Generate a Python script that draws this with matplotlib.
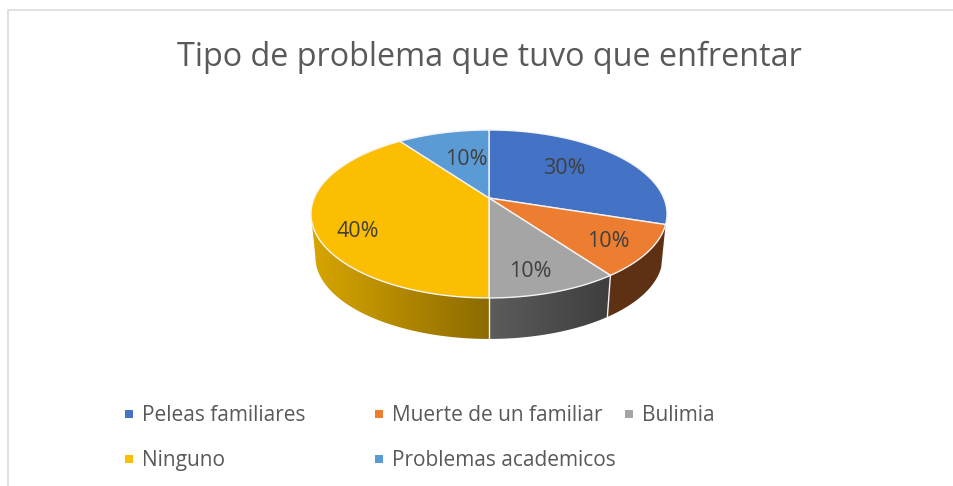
import numpy as np
import matplotlib
matplotlib.use("Agg")
import matplotlib.pyplot as plt
from matplotlib.patches import Rectangle, Polygon
from matplotlib.colors import to_rgb

title = "Tipo de problema que tuvo que enfrentar"
categories = ["Peleas familiares", "Muerte de un familiar", "Bulimia", "Ninguno", "Problemas academicos"]
values = [30, 10, 10, 40, 10]
colors = ["#4472C4", "#ED7D31", "#A5A5A5", "#FBBE00", "#5B9BD5"]
wall_left = ["#2A4478", "#5F3114", "#5C5C5C", "#D8A600", "#36608A"]
wall_right = ["#2A4478", "#5F3114", "#3E3E3E", "#8C6A00", "#36608A"]
label_pos = [(564, 168), (608, 241), (530, 271), (358, 231), (466, 159)]
legend_pos = [(125, 414), (375, 414), (625, 414), (125, 459), (375, 459)]

FONT = "Open Sans"
fig = plt.figure(figsize=(9.54, 4.86), dpi=100)
ax = fig.add_axes([0, 0, 1, 1])
ax.axis("off")

CX, CY, A, B, K = 489, 198, 174.8, 80.95, 0.19
DEPTH_CY, DEPTH_SCALE = 241.5, 0.975
LEFT_TANGENT = 180 + np.degrees(np.arccos(K))


def project(deg, r=1.0, scale=1.0, cy=CY):
    t = np.radians(deg)
    x, y = r * np.sin(t), r * np.cos(t)
    w = 1 + K * y
    return CX + scale * A * x / w, cy - scale * B * y / w


# border
ax.plot([954, 8.5, 8.5], [10.5, 10.5, 486], color="#D9D9D9", lw=1.1, solid_capstyle="butt")

edges = np.cumsum([0] + values) / sum(values) * 360.0

# side walls with a left-to-right gradient, clipped to the wall outline
for i in range(len(values)):
    a0, a1 = edges[i], edges[i + 1]
    if a0 < 90 or a0 >= LEFT_TANGENT:
        continue
    ts = np.linspace(a0, min(a1, LEFT_TANGENT), 200)
    xt, yt = project(ts)
    xb, yb = project(ts[::-1], scale=DEPTH_SCALE, cy=DEPTH_CY)
    px, py = np.r_[xt, xb], np.r_[yt, yb]
    poly = Polygon(np.c_[px, py], closed=True, facecolor="none", edgecolor="none", transform=ax.transData)
    ax.add_patch(poly)
    cl, cr = np.array(to_rgb(wall_left[i])), np.array(to_rgb(wall_right[i]))
    grad = cl + (cr - cl) * np.linspace(0, 1, 256)[:, None]
    im = ax.imshow(grad[None, :, :], extent=(px.min(), px.max(), py.max(), py.min()),
                   aspect="auto", interpolation="bilinear", zorder=2)
    im.set_clip_path(poly)

# white seams on the wall between slices
for e in edges[1:-1]:
    if 120 < e < LEFT_TANGENT:
        x0, y0 = project(e)
        x1, y1 = project(e, scale=DEPTH_SCALE, cy=DEPTH_CY)
        ax.plot([x0, x1], [y0, y1], color="#F2F2F2", lw=1.0, zorder=3)

# top face
for i in range(len(values)):
    ts = np.linspace(edges[i], edges[i + 1], 120)
    xs, ys = project(ts)
    ax.fill(np.r_[CX, xs], np.r_[CY, ys], facecolor=colors[i], edgecolor="#F4F4F4",
            lw=1.0, joinstyle="round", zorder=4)
    ax.text(*label_pos[i], f"{values[i]}%", ha="center", va="center", color="#404040",
            fontsize=15.5, family=FONT, zorder=5)

ax.text(489, 57, title, ha="center", va="center", color="#595959", fontsize=23.3, family=FONT)

for (x, y), name, c in zip(legend_pos, categories, colors):
    ax.add_patch(Rectangle((x, y - 4), 8, 8, facecolor=c, edgecolor="none"))
    ax.text(x + 17, y + 1.5, name, ha="left", va="center", color="#595959", fontsize=15, family=FONT)

ax.set_xlim(0, 954)
ax.set_ylim(486, 0)
fig.savefig("out.png", dpi=100)
